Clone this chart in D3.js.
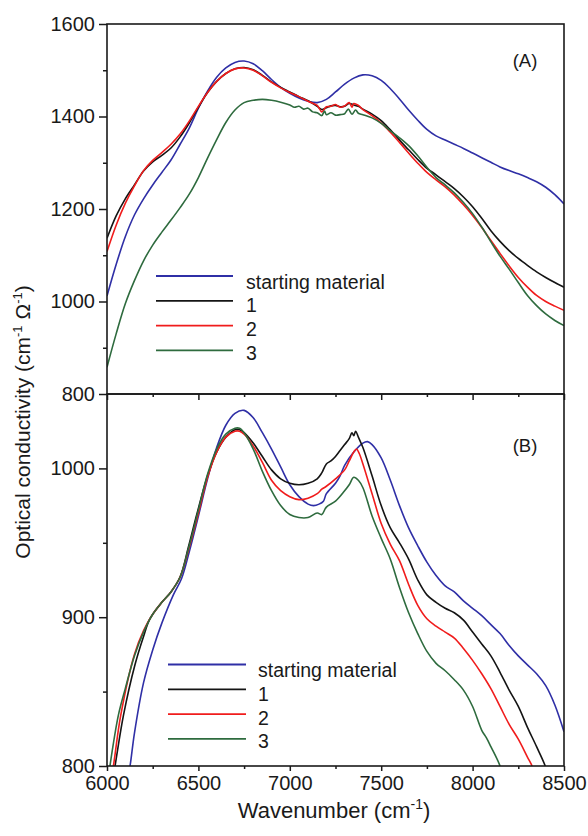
<!DOCTYPE html>
<html>
<head>
<meta charset="utf-8">
<script src="https://cdn.jsdelivr.net/npm/d3@7/dist/d3.min.js"></script>
<style>
  body { margin: 0; background: #fff; }
  text { font-family: "Liberation Sans", Arial, sans-serif; fill: #1a1a1a; }
</style>
</head>
<body>
<div id="chart"></div>
<script>
// series names + colours
const seriesNames = ["starting material", "1", "2", "3"];
const seriesColors = ["#2f2fa6", "#141414", "#f01c1c", "#2e6b3e"];

// x ticks
const xMajorTicks = [6000, 6500, 7000, 7500, 8000, 8500];
const xMinorTicks = [6250, 6750, 7250, 7750, 8250];

// panel (A) y ticks
const yMajorA = [800, 1000, 1200, 1400, 1600];
const yMinorA = [900, 1100, 1300, 1500];
// panel (B) y ticks
const yMajorB = [800, 900, 1000];
const yMinorB = [850, 950];

// panel (A) data: [wavenumber, conductivity]
const aStart = [[6000,1012],[6050,1080],[6100,1140],[6150,1187],[6200,1222],[6250,1252],[6300,1279],[6350,1306],[6400,1340],[6450,1375],[6500,1418],[6550,1455],[6600,1485],[6650,1505],[6700,1517],[6750,1520],[6800,1514],[6850,1499],[6900,1480],[6950,1463],[7000,1450],[7050,1440],[7100,1433],[7150,1430],[7200,1437],[7250,1453],[7300,1470],[7350,1483],[7400,1490],[7450,1488],[7500,1478],[7550,1460],[7600,1438],[7650,1414],[7700,1392],[7750,1372],[7800,1358],[7850,1349],[7900,1340],[7950,1331],[8000,1321],[8050,1311],[8100,1301],[8150,1291],[8200,1283],[8250,1276],[8300,1268],[8350,1259],[8400,1247],[8450,1231],[8500,1211]];
const a1 = [[6000,1137],[6050,1185],[6100,1222],[6150,1252],[6200,1282],[6250,1302],[6300,1316],[6350,1332],[6400,1356],[6450,1386],[6500,1420],[6550,1452],[6600,1476],[6650,1493],[6700,1503],[6750,1506],[6800,1501],[6850,1489],[6900,1475],[6950,1463],[7000,1453],[7050,1443],[7100,1434],[7150,1422],[7175,1415],[7200,1419],[7225,1423],[7250,1424],[7275,1421],[7300,1422],[7325,1428],[7350,1425],[7375,1422],[7400,1416],[7450,1405],[7500,1391],[7550,1371],[7600,1349],[7650,1328],[7700,1307],[7750,1288],[7800,1274],[7850,1259],[7900,1244],[7950,1226],[8000,1205],[8050,1180],[8100,1153],[8150,1130],[8200,1110],[8250,1093],[8300,1078],[8350,1064],[8400,1052],[8450,1041],[8500,1031]];
const a2 = [[6000,1108],[6050,1165],[6100,1212],[6150,1250],[6200,1283],[6250,1305],[6300,1322],[6350,1340],[6400,1362],[6450,1390],[6500,1422],[6550,1452],[6600,1476],[6650,1493],[6700,1503],[6750,1505],[6800,1500],[6850,1488],[6900,1474],[6950,1462],[7000,1452],[7050,1443],[7100,1433],[7150,1424],[7175,1410],[7200,1421],[7225,1422],[7250,1426],[7275,1420],[7300,1423],[7325,1430],[7340,1420],[7350,1428],[7375,1424],[7400,1415],[7450,1402],[7500,1386],[7550,1366],[7600,1344],[7650,1321],[7700,1299],[7750,1279],[7800,1263],[7850,1248],[7900,1230],[7950,1209],[8000,1186],[8050,1160],[8100,1132],[8150,1104],[8200,1077],[8250,1052],[8300,1031],[8350,1013],[8400,1000],[8450,990],[8500,981]];
const a3 = [[6000,858],[6050,930],[6100,995],[6150,1045],[6200,1088],[6250,1122],[6300,1150],[6350,1176],[6400,1203],[6450,1232],[6500,1268],[6550,1310],[6600,1350],[6650,1387],[6700,1414],[6750,1430],[6800,1435],[6850,1437],[6900,1435],[6950,1431],[7000,1425],[7025,1420],[7050,1422],[7075,1416],[7100,1418],[7125,1410],[7150,1408],[7175,1402],[7190,1412],[7200,1404],[7225,1408],[7250,1403],[7275,1404],[7300,1406],[7320,1416],[7340,1405],[7360,1414],[7375,1407],[7400,1404],[7450,1397],[7500,1385],[7550,1369],[7600,1354],[7650,1337],[7700,1315],[7750,1290],[7800,1268],[7850,1252],[7900,1235],[7950,1214],[8000,1190],[8050,1161],[8100,1129],[8150,1098],[8200,1070],[8250,1041],[8300,1013],[8350,991],[8400,973],[8450,959],[8500,948]];

// panel (B) data
const bStart = [[6110,790],[6126,800],[6150,822],[6200,856],[6250,878],[6300,896],[6363,915],[6408,926],[6450,944],[6500,968],[6550,993],[6600,1014],[6650,1029],[6700,1037],[6750,1039],[6800,1034],[6850,1024],[6900,1013],[6950,1001],[7000,989],[7050,981],[7100,976],[7130,975],[7160,976],[7184,978],[7200,983],[7250,990],[7275,995],[7300,1002],[7350,1011],[7400,1017],[7425,1018],[7450,1016],[7500,1007],[7550,992],[7600,975],[7650,960],[7700,948],[7750,937],[7800,928],[7850,921],[7900,917],[7950,911],[8000,906],[8050,901],[8100,895],[8150,889],[8200,881],[8250,874],[8300,868],[8350,862],[8400,854],[8450,841],[8500,823]];
const b1 = [[6030,790],[6044,800],[6090,834],[6153,868],[6200,887],[6235,899],[6300,910],[6350,917],[6400,927],[6445,947],[6491,969],[6550,995],[6600,1011],[6650,1021],[6700,1026],[6725,1026],[6750,1024],[6800,1017],[6850,1008],[6900,999],[6950,993],[7000,990],[7050,989],[7100,990],[7150,993],[7175,997],[7200,1003],[7225,1005],[7250,1008],[7275,1012],[7300,1016],[7325,1020],[7340,1024],[7350,1022],[7360,1025],[7375,1021],[7400,1014],[7450,995],[7500,975],[7550,960],[7600,950],[7650,939],[7700,925],[7750,915],[7800,910],[7850,906],[7900,903],[7950,898],[8000,890],[8050,882],[8100,874],[8150,863],[8200,851],[8250,840],[8300,826],[8350,813],[8400,799],[8415,790]];
const b2 = [[6020,790],[6035,800],[6075,834],[6150,875],[6200,891],[6250,902],[6300,910],[6350,917],[6400,927],[6450,947],[6500,970],[6550,994],[6600,1011],[6650,1021],[6700,1025],[6725,1025],[6750,1023],[6800,1015],[6850,1004],[6900,992],[6950,985],[7000,981],[7050,979],[7100,980],[7150,983],[7175,986],[7200,988],[7250,993],[7300,999],[7325,1005],[7350,1011],[7365,1013],[7380,1010],[7400,1003],[7450,983],[7500,963],[7550,949],[7600,938],[7650,922],[7700,908],[7750,899],[7800,894],[7850,890],[7900,886],[7950,879],[8000,871],[8050,862],[8100,852],[8150,840],[8200,828],[8250,818],[8300,806],[8325,800],[8340,792]];
const b3 = [[6005,790],[6016,800],[6062,834],[6100,852],[6150,874],[6200,890],[6250,902],[6300,910],[6350,917],[6400,927],[6450,948],[6500,972],[6550,996],[6600,1013],[6650,1023],[6700,1027],[6725,1027],[6750,1024],[6800,1013],[6850,998],[6900,985],[6950,975],[7000,969],[7050,967],[7100,967],[7150,970],[7175,969],[7200,974],[7250,978],[7300,985],[7325,989],[7350,994],[7375,992],[7400,987],[7450,968],[7500,953],[7550,939],[7600,920],[7650,903],[7700,889],[7750,877],[7800,869],[7850,864],[7900,858],[7950,851],[8000,840],[8050,824],[8075,819],[8100,813],[8150,800],[8165,792]];

const seriesA = [aStart, a1, a2, a3];
const seriesB = [bStart, b1, b2, b3];

// dimensions
const W = 588, H = 836;
const left = 107, right = 564;
const topA = 24, midY = 394, botB = 766;

const svg = d3.select("#chart").append("svg")
    .attr("width", W)
    .attr("height", H)
    .style("background", "#fff");

const x = d3.scaleLinear().domain([6000, 8500]).range([left, right]);
const yA = d3.scaleLinear().domain([800, 1600]).range([midY, topA]);
const yB = d3.scaleLinear().domain([800, 1050]).range([botB, midY]);

// clip paths for each panel
const defs = svg.append("defs");
defs.append("clipPath").attr("id", "clipA").append("rect")
    .attr("x", left).attr("y", topA).attr("width", right - left).attr("height", midY - topA);
defs.append("clipPath").attr("id", "clipB").append("rect")
    .attr("x", left).attr("y", midY).attr("width", right - left).attr("height", botB - midY);

function drawPanel(series, y, clip) {
    const line = d3.line()
        .x(d => x(d[0]))
        .y(d => y(d[1]))
        .curve(d3.curveCatmullRom.alpha(0.5));
    const g = svg.append("g").attr("clip-path", `url(#${clip})`);
    series.forEach((s, i) => {
        g.append("path")
            .datum(s)
            .attr("fill", "none")
            .attr("stroke", seriesColors[i])
            .attr("stroke-width", 1.6)
            .attr("stroke-linejoin", "round")
            .attr("d", line);
    });
}
drawPanel(seriesA, yA, "clipA");
drawPanel(seriesB, yB, "clipB");

// axes helper: strip domain, style ticks
function styleAxis(g) {
    g.select(".domain").remove();
    g.selectAll(".tick line").attr("stroke", "#1a1a1a").attr("stroke-width", 1.5);
    g.selectAll(".tick text").attr("font-size", 20).attr("fill", "#1a1a1a")
        .attr("font-family", "Liberation Sans, Arial, sans-serif");
}

// left axes
svg.append("g").attr("transform", `translate(${left},0)`)
    .call(d3.axisLeft(yA).tickValues(yMajorA).tickSize(8).tickPadding(4).tickFormat(d3.format("d")))
    .call(styleAxis);
svg.append("g").attr("transform", `translate(${left},0)`)
    .call(d3.axisLeft(yA).tickValues(yMinorA).tickSize(4).tickFormat(""))
    .call(styleAxis);
svg.append("g").attr("transform", `translate(${left},0)`)
    .call(d3.axisLeft(yB).tickValues(yMajorB).tickSize(8).tickPadding(4).tickFormat(d3.format("d")))
    .call(styleAxis);
svg.append("g").attr("transform", `translate(${left},0)`)
    .call(d3.axisLeft(yB).tickValues(yMinorB).tickSize(4).tickFormat(""))
    .call(styleAxis);

// bottom axis of panel (A), no labels
svg.append("g").attr("transform", `translate(0,${midY})`)
    .call(d3.axisBottom(x).tickValues(xMajorTicks).tickSize(6).tickFormat(""))
    .call(styleAxis);
svg.append("g").attr("transform", `translate(0,${midY})`)
    .call(d3.axisBottom(x).tickValues(xMinorTicks).tickSize(3).tickFormat(""))
    .call(styleAxis);

// bottom axis of panel (B)
svg.append("g").attr("transform", `translate(0,${botB})`)
    .call(d3.axisBottom(x).tickValues(xMajorTicks).tickSize(5).tickPadding(5).tickFormat(d3.format("d")))
    .call(styleAxis);
svg.append("g").attr("transform", `translate(0,${botB})`)
    .call(d3.axisBottom(x).tickValues(xMinorTicks).tickSize(3).tickFormat(""))
    .call(styleAxis);

// frames
[[topA, midY], [midY, botB]].forEach(([t, b]) => {
    svg.append("rect")
        .attr("x", left).attr("y", t)
        .attr("width", right - left).attr("height", b - t)
        .attr("fill", "none")
        .attr("stroke", "#1a1a1a")
        .attr("stroke-width", 1.6);
});

// panel labels
svg.append("text").attr("x", 525).attr("y", 67).attr("text-anchor", "middle")
    .attr("font-size", 18.5).text("(A)");
svg.append("text").attr("x", 525).attr("y", 452).attr("text-anchor", "middle")
    .attr("font-size", 18.5).text("(B)");

// legends
function drawLegend(x0, x1, tx, y0) {
    const lg = svg.append("g");
    seriesNames.forEach((name, i) => {
        const ly = y0 + i * 24.8;
        lg.append("line")
            .attr("x1", x0).attr("x2", x1)
            .attr("y1", ly).attr("y2", ly)
            .attr("stroke", seriesColors[i])
            .attr("stroke-width", 1.8);
        lg.append("text")
            .attr("x", tx)
            .attr("y", y0 + 12.5 + i * 23.8)
            .attr("font-size", 19.5)
            .text(name);
    });
}
drawLegend(156, 233, 246, 276);
drawLegend(168, 246, 258, 664.5);

// axis titles
const yTitle = svg.append("text")
    .attr("transform", "translate(30,422) rotate(-90)")
    .attr("text-anchor", "middle")
    .attr("font-size", 21);
yTitle.append("tspan").text("Optical conductivity (cm");
yTitle.append("tspan").attr("font-size", 13).attr("dy", -8).text("-1");
yTitle.append("tspan").attr("dy", 8).text(" \u03A9");
yTitle.append("tspan").attr("font-size", 13).attr("dy", -8).text("-1");
yTitle.append("tspan").attr("dy", 8).text(")");

const xTitle = svg.append("text")
    .attr("x", 334).attr("y", 818)
    .attr("text-anchor", "middle")
    .attr("font-size", 22);
xTitle.append("tspan").text("Wavenumber (cm");
xTitle.append("tspan").attr("font-size", 14).attr("dy", -9).text("-1");
xTitle.append("tspan").attr("dy", 9).text(")");
</script>
</body>
</html>
